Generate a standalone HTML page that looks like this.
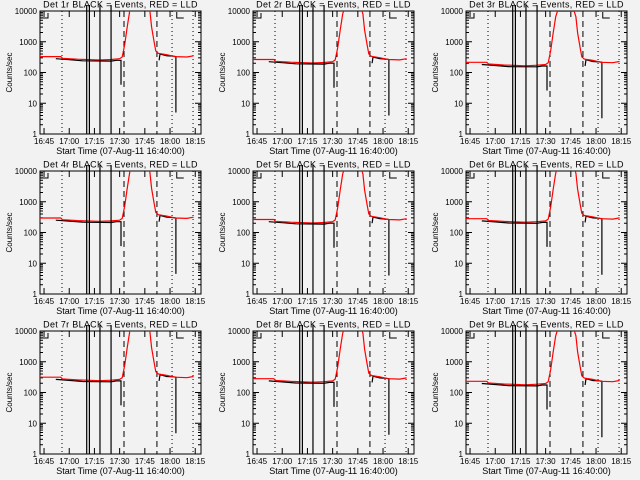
<!DOCTYPE html>
<html><head><meta charset="utf-8"><style>
html,body{margin:0;padding:0;background:#f2f2f2;}
svg{display:block;font-family:"Liberation Sans",sans-serif;}
</style></head><body>
<svg id="c" width="640" height="480" viewBox="0 0 640 480" xmlns="http://www.w3.org/2000/svg">
<rect width="640" height="480" fill="#f2f2f2"/>
</svg>
<script>
// data (minutes since 16:40, counts/sec)
const panelNames = ["1r","2r","3r","4r","5r","6r","7r","8r","9r"];
const panelScales = [1.0,0.8,0.65,0.9,0.8,0.85,0.95,0.85,0.7];
const redTimes  = [2.6,15,16,25,38,45,50,51.5,53,54.5,56,57,67,68,69,70.5,71.5,73,78,83,90,94];
const redValues = [330,330,290,270,255,265,280,320,800,3000,10000,15000,15000,10000,3000,1000,500,420,380,330,320,350];
const black1Times  = [12,20,28,45,48,50.8,50.8];
const black1Values = [280,260,240,235,250,250,40];
const black2Times  = [73.5,74,78,82,83.5,83.5];
const black2Values = [250,400,350,340,330,5];
const dropTimes = [30.4,32,38.3,44.9];
const dottedTimes = [15.7,81.2,93.7];
const dashedTimes = [52.6,72.2];
const tickLabels = ["16:45","17:00","17:15","17:30","17:45","18:00","18:15"];
const tickTimes = [5,20,35,50,65,80,95];
const yTicks = [1,10,100,1000,10000];

const svg = document.getElementById('c');
const NS = "http://www.w3.org/2000/svg";
function mk(tag, attrs, parent){const e=document.createElementNS(NS,tag);for(const k in attrs)e.setAttribute(k,attrs[k]);(parent||svg).appendChild(e);return e;}

panelNames.forEach((nm,i)=>{
  const col=i%3,row=Math.floor(i/3);
  const L=40+col*213,R=L+161,T=11+row*160,B=T+123;
  const xs=m=>L+(m-2.6)*1.68;
  const ys=v=>T+(4-Math.log10(v))*30.75;
  const g=mk('g',{});
  
  
  const cp=mk('clipPath',{id:'cp'+i},g);
  mk('rect',{x:L,y:T,width:R-L,height:B-T},cp);
  const t=mk('text',{x:(L+R)/2,y:T-3.5,'text-anchor':'middle','font-size':'9','letter-spacing':'0.3'},g);
  t.textContent='Det '+nm+' BLACK = Events, RED = LLD';
  
  
  const fr=mk('rect',{x:L,y:T,width:R-L,height:B-T,fill:'none',stroke:'#000','stroke-width':1},g);
  
  
  yTicks.forEach(v=>{
    const y=ys(v);
    mk('line',{x1:L,x2:L+6,y1:y,y2:y,stroke:'#000'},g);
    mk('line',{x1:R,x2:R-6,y1:y,y2:y,stroke:'#000'},g);
    const tl=mk('text',{x:L-3,y:y+3,'text-anchor':'end','font-size':'8'},g);
    tl.textContent=String(v);
    
    
    if(v<10000)for(let k=2;k<10;k++){const yy=ys(v*k);
      mk('line',{x1:L,x2:L+3,y1:yy,y2:yy,stroke:'#000'},g);
      mk('line',{x1:R,x2:R-3,y1:yy,y2:yy,stroke:'#000'},g);}
  });
  const yt=mk('text',{transform:`translate(${L-28},${(T+B)/2}) rotate(-90)`,'text-anchor':'middle','font-size':'8'},g);
  yt.textContent='Counts/sec';
  
  
  tickTimes.forEach((m,j)=>{
    const x=xs(m);
    mk('line',{x1:x,x2:x,y1:B,y2:B-6,stroke:'#000'},g);
    mk('line',{x1:x,x2:x,y1:T,y2:T+6,stroke:'#000'},g);
    const xl=mk('text',{x:x,y:B+10,'text-anchor':'middle','font-size':'8'},g);
    xl.textContent=tickLabels[j];
    
    
  });
  const xt=mk('text',{x:(L+R)/2,y:B+20,'text-anchor':'middle','font-size':'9'},g);
  xt.textContent='Start Time (07-Aug-11 16:40:00)';
  
  
  const inner=mk('g',{'clip-path':`url(#cp${i})`},g);
  dottedTimes.forEach(m=>{const l=mk('line',{x1:xs(m),x2:xs(m),y1:T,y2:B,stroke:'#000','stroke-dasharray':'1,3'},inner);
    });
  dashedTimes.forEach(m=>{const l=mk('line',{x1:xs(m),x2:xs(m),y1:T,y2:B,stroke:'#000','stroke-dasharray':'6,4'},inner);
    });
  const s=panelScales[i];
  const pth=(ts,vs,sc)=>ts.map((m,k)=>(k?'L':'M')+xs(m).toFixed(1)+','+ys(Math.max(vs[k]*sc,1)).toFixed(1)).join(' ');
  const b1=mk('path',{d:pth(black1Times,black1Values,s),fill:'none',stroke:'#000','stroke-width':1.2},inner);
  
  const b2=mk('path',{d:pth(black2Times,black2Values,s),fill:'none',stroke:'#000','stroke-width':1.2},inner);
  
  const rd=mk('path',{d:pth(redTimes,redValues,s),fill:'none',stroke:'#f00','stroke-width':1.2},inner);
  
  dropTimes.forEach(m=>{const l=mk('line',{x1:xs(m),x2:xs(m),y1:T-6,y2:B,stroke:'#000','stroke-width':1.2},g);
    });
  mk('path',{d:`M${xs(dropTimes[0])},${T} L${xs(dropTimes[3])-10},${T} M${L},${T+7} L${L+8},${T+7} L${L+8},${T+2}`,fill:'none',stroke:'#000'},g);
  mk('path',{d:`M${xs(84)},${T+1} L${xs(84)},${T+7} L${xs(84)+7},${T+7}`,fill:'none',stroke:'#000'},g);
});
</script>
</body></html>
